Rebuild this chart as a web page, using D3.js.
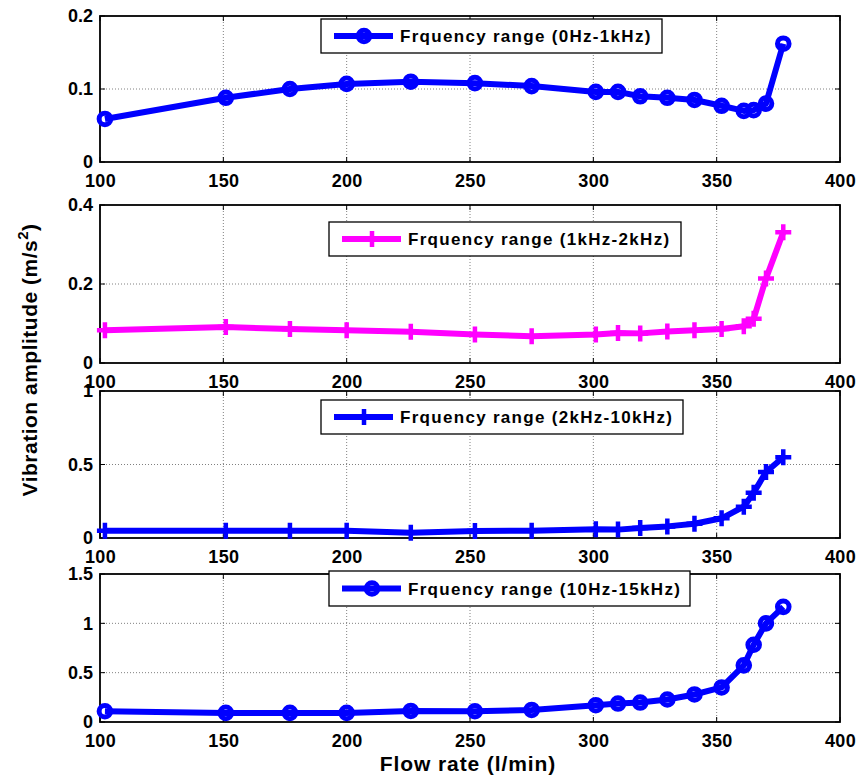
<!DOCTYPE html>
<html><head><meta charset="utf-8">
<script src="https://cdn.jsdelivr.net/npm/d3@7"></script>
<style>
body{margin:0;background:#fff;}
text{font-family:"Liberation Sans",Arial,sans-serif;font-weight:bold;fill:#000;}
</style></head>
<body><svg id="chart" width="857" height="780"></svg>
<script>
// ---- data ----
const flowRate = [102,151,177,200,226,252,275,301,310,319,330,341,352,361,365,370,377];
const amp0to1k   = [0.059,0.088,0.100,0.107,0.110,0.108,0.104,0.096,0.096,0.090,0.088,0.085,0.077,0.070,0.071,0.080,0.162];
const amp1to2k   = [0.083,0.091,0.086,0.083,0.079,0.072,0.068,0.072,0.076,0.075,0.080,0.083,0.086,0.093,0.112,0.214,0.331];
const amp2to10k  = [0.050,0.050,0.050,0.050,0.036,0.048,0.050,0.059,0.057,0.068,0.079,0.097,0.134,0.213,0.308,0.449,0.549];
const amp10to15k = [0.109,0.092,0.092,0.092,0.112,0.109,0.122,0.170,0.187,0.197,0.228,0.279,0.350,0.574,0.783,1.000,1.167];
const legendLabels = ["Frquency range (0Hz-1kHz)","Frquency range (1kHz-2kHz)","Frquency range (2kHz-10kHz)","Frquency range (10Hz-15kHz)"];
const xTicks = [100,150,200,250,300,350,400];
const yTicks1 = [0,0.1,0.2];
const yTicks2 = [0,0.2,0.4];
const yTicks3 = [0,0.5,1];
const yTicks4 = [0,0.5,1,1.5];
const xLabel = "Flow rate (l/min)";
const yLabel = "Vibration  amplitude (m/s";

// ---- layout / style ----
const svg = d3.select("#chart");
const X0 = 100, X1 = 840;
const x = d3.scaleLinear().domain([100,400]).range([X0,X1]);
const panels = [
  {vals:amp0to1k,  ticks:yTicks1, top:16,  bottom:162, color:"#0000ff", marker:"o", leg:[321,19,662,53]},
  {vals:amp1to2k,  ticks:yTicks2, top:205, bottom:363, color:"#ff00ff", marker:"+", leg:[329,222,681,256]},
  {vals:amp2to10k, ticks:yTicks3, top:391, bottom:538, color:"#0000ff", marker:"+", leg:[321,400,683,434]},
  {vals:amp10to15k,ticks:yTicks4, top:574, bottom:722, color:"#0000ff", marker:"o", leg:[329,571,690,606]}
];

function drawMarker(g, type, color){
  if(type==="o"){
    g.append("circle").attr("r",5.8).attr("fill","none").attr("stroke",color).attr("stroke-width",5);
  } else {
    g.append("path").attr("d","M-8,0H8M0,-8V8").attr("stroke",color).attr("stroke-width",4.5).attr("fill","none");
  }
}

panels.forEach((p,i)=>{
  const tmax = p.ticks[p.ticks.length-1];
  const y = d3.scaleLinear().domain([0,tmax]).range([p.bottom,p.top]);
  const g = svg.append("g");
  // grid
  g.selectAll(".vg").data(xTicks.slice(1,-1)).join("line")
    .attr("x1",d=>x(d)).attr("x2",d=>x(d)).attr("y1",p.top).attr("y2",p.bottom)
    .attr("stroke","#808080").attr("stroke-width",1).attr("stroke-dasharray","1,2");
  g.selectAll(".hg").data(p.ticks.slice(1,-1)).join("line")
    .attr("x1",X0).attr("x2",X1).attr("y1",d=>y(d)).attr("y2",d=>y(d))
    .attr("stroke","#808080").attr("stroke-width",1).attr("stroke-dasharray","1,2");
  // axes via d3 axes
  const ax = d3.axisBottom(x).tickValues(xTicks).tickSize(0).tickPadding(0).tickFormat(d3.format("d"));
  const axG = g.append("g").attr("transform",`translate(0,${p.bottom})`).call(ax);
  axG.select(".domain").remove();
  axG.selectAll("text").attr("dy",null).attr("y",25).style("font-size","18px").style("letter-spacing","0.3px").attr("fill","#000");
  const ay = d3.axisLeft(y).tickValues(p.ticks).tickSize(0).tickPadding(0).tickFormat(d=>d3.format("")(d));
  const ayG = g.append("g").attr("transform",`translate(${X0-7},0)`).call(ay);
  ayG.select(".domain").remove();
  ayG.selectAll("text").attr("dy","0.33em").style("font-size","18px").attr("fill","#000");
  // inward ticks
  xTicks.forEach(t=>{
    g.append("line").attr("x1",x(t)).attr("x2",x(t)).attr("y1",p.bottom).attr("y2",p.bottom-5).attr("stroke","#000");
    g.append("line").attr("x1",x(t)).attr("x2",x(t)).attr("y1",p.top).attr("y2",p.top+5).attr("stroke","#000");
  });
  p.ticks.forEach(t=>{
    g.append("line").attr("x1",X0).attr("x2",X0+5).attr("y1",y(t)).attr("y2",y(t)).attr("stroke","#000");
    g.append("line").attr("x1",X1).attr("x2",X1-5).attr("y1",y(t)).attr("y2",y(t)).attr("stroke","#000");
  });
  // frame
  g.append("rect").attr("x",X0).attr("y",p.top).attr("width",X1-X0).attr("height",p.bottom-p.top)
    .attr("fill","none").attr("stroke","#000").attr("stroke-width",1.8);
  // line
  const data = flowRate.map((f,k)=>[f,p.vals[k]]);
  g.append("path").datum(data)
    .attr("d",d3.line().x(d=>x(d[0])).y(d=>y(d[1])))
    .attr("fill","none").attr("stroke",p.color).attr("stroke-width",6).attr("stroke-linejoin","round");
  data.forEach(d=>{
    const mg = g.append("g").attr("transform",`translate(${x(d[0])},${y(d[1])})`);
    drawMarker(mg,p.marker,p.color);
  });
  // legend
  const [lx0,ly0,lx1,ly1] = p.leg;
  const lg = svg.append("g");
  lg.append("rect").attr("x",lx0).attr("y",ly0).attr("width",lx1-lx0).attr("height",ly1-ly0)
    .attr("fill","#fff").attr("stroke","#000").attr("stroke-width",1.3);
  const cy = (ly0+ly1)/2;
  lg.append("line").attr("x1",lx0+13).attr("x2",lx0+72).attr("y1",cy).attr("y2",cy)
    .attr("stroke",p.color).attr("stroke-width",6);
  const mg = lg.append("g").attr("transform",`translate(${lx0+43},${cy})`);
  drawMarker(mg,p.marker,p.color);
  lg.append("text").attr("x",lx0+79).attr("y",cy).attr("dy","0.36em")
    .style("font-size","17px").style("letter-spacing","1.3px").text(legendLabels[i]);
});

// axis titles
svg.append("text").attr("x",468).attr("y",771).attr("text-anchor","middle")
  .style("font-size","21px").style("letter-spacing","0.9px").text(xLabel);
const yl = svg.append("text").attr("transform","translate(37,360) rotate(-90)").attr("text-anchor","middle")
  .style("font-size","21px").style("letter-spacing","0.5px");
yl.append("tspan").text(yLabel);
yl.append("tspan").attr("dy",-9).style("font-size","15px").text("2");
yl.append("tspan").attr("dy",9).text(")");
</script></body></html>
